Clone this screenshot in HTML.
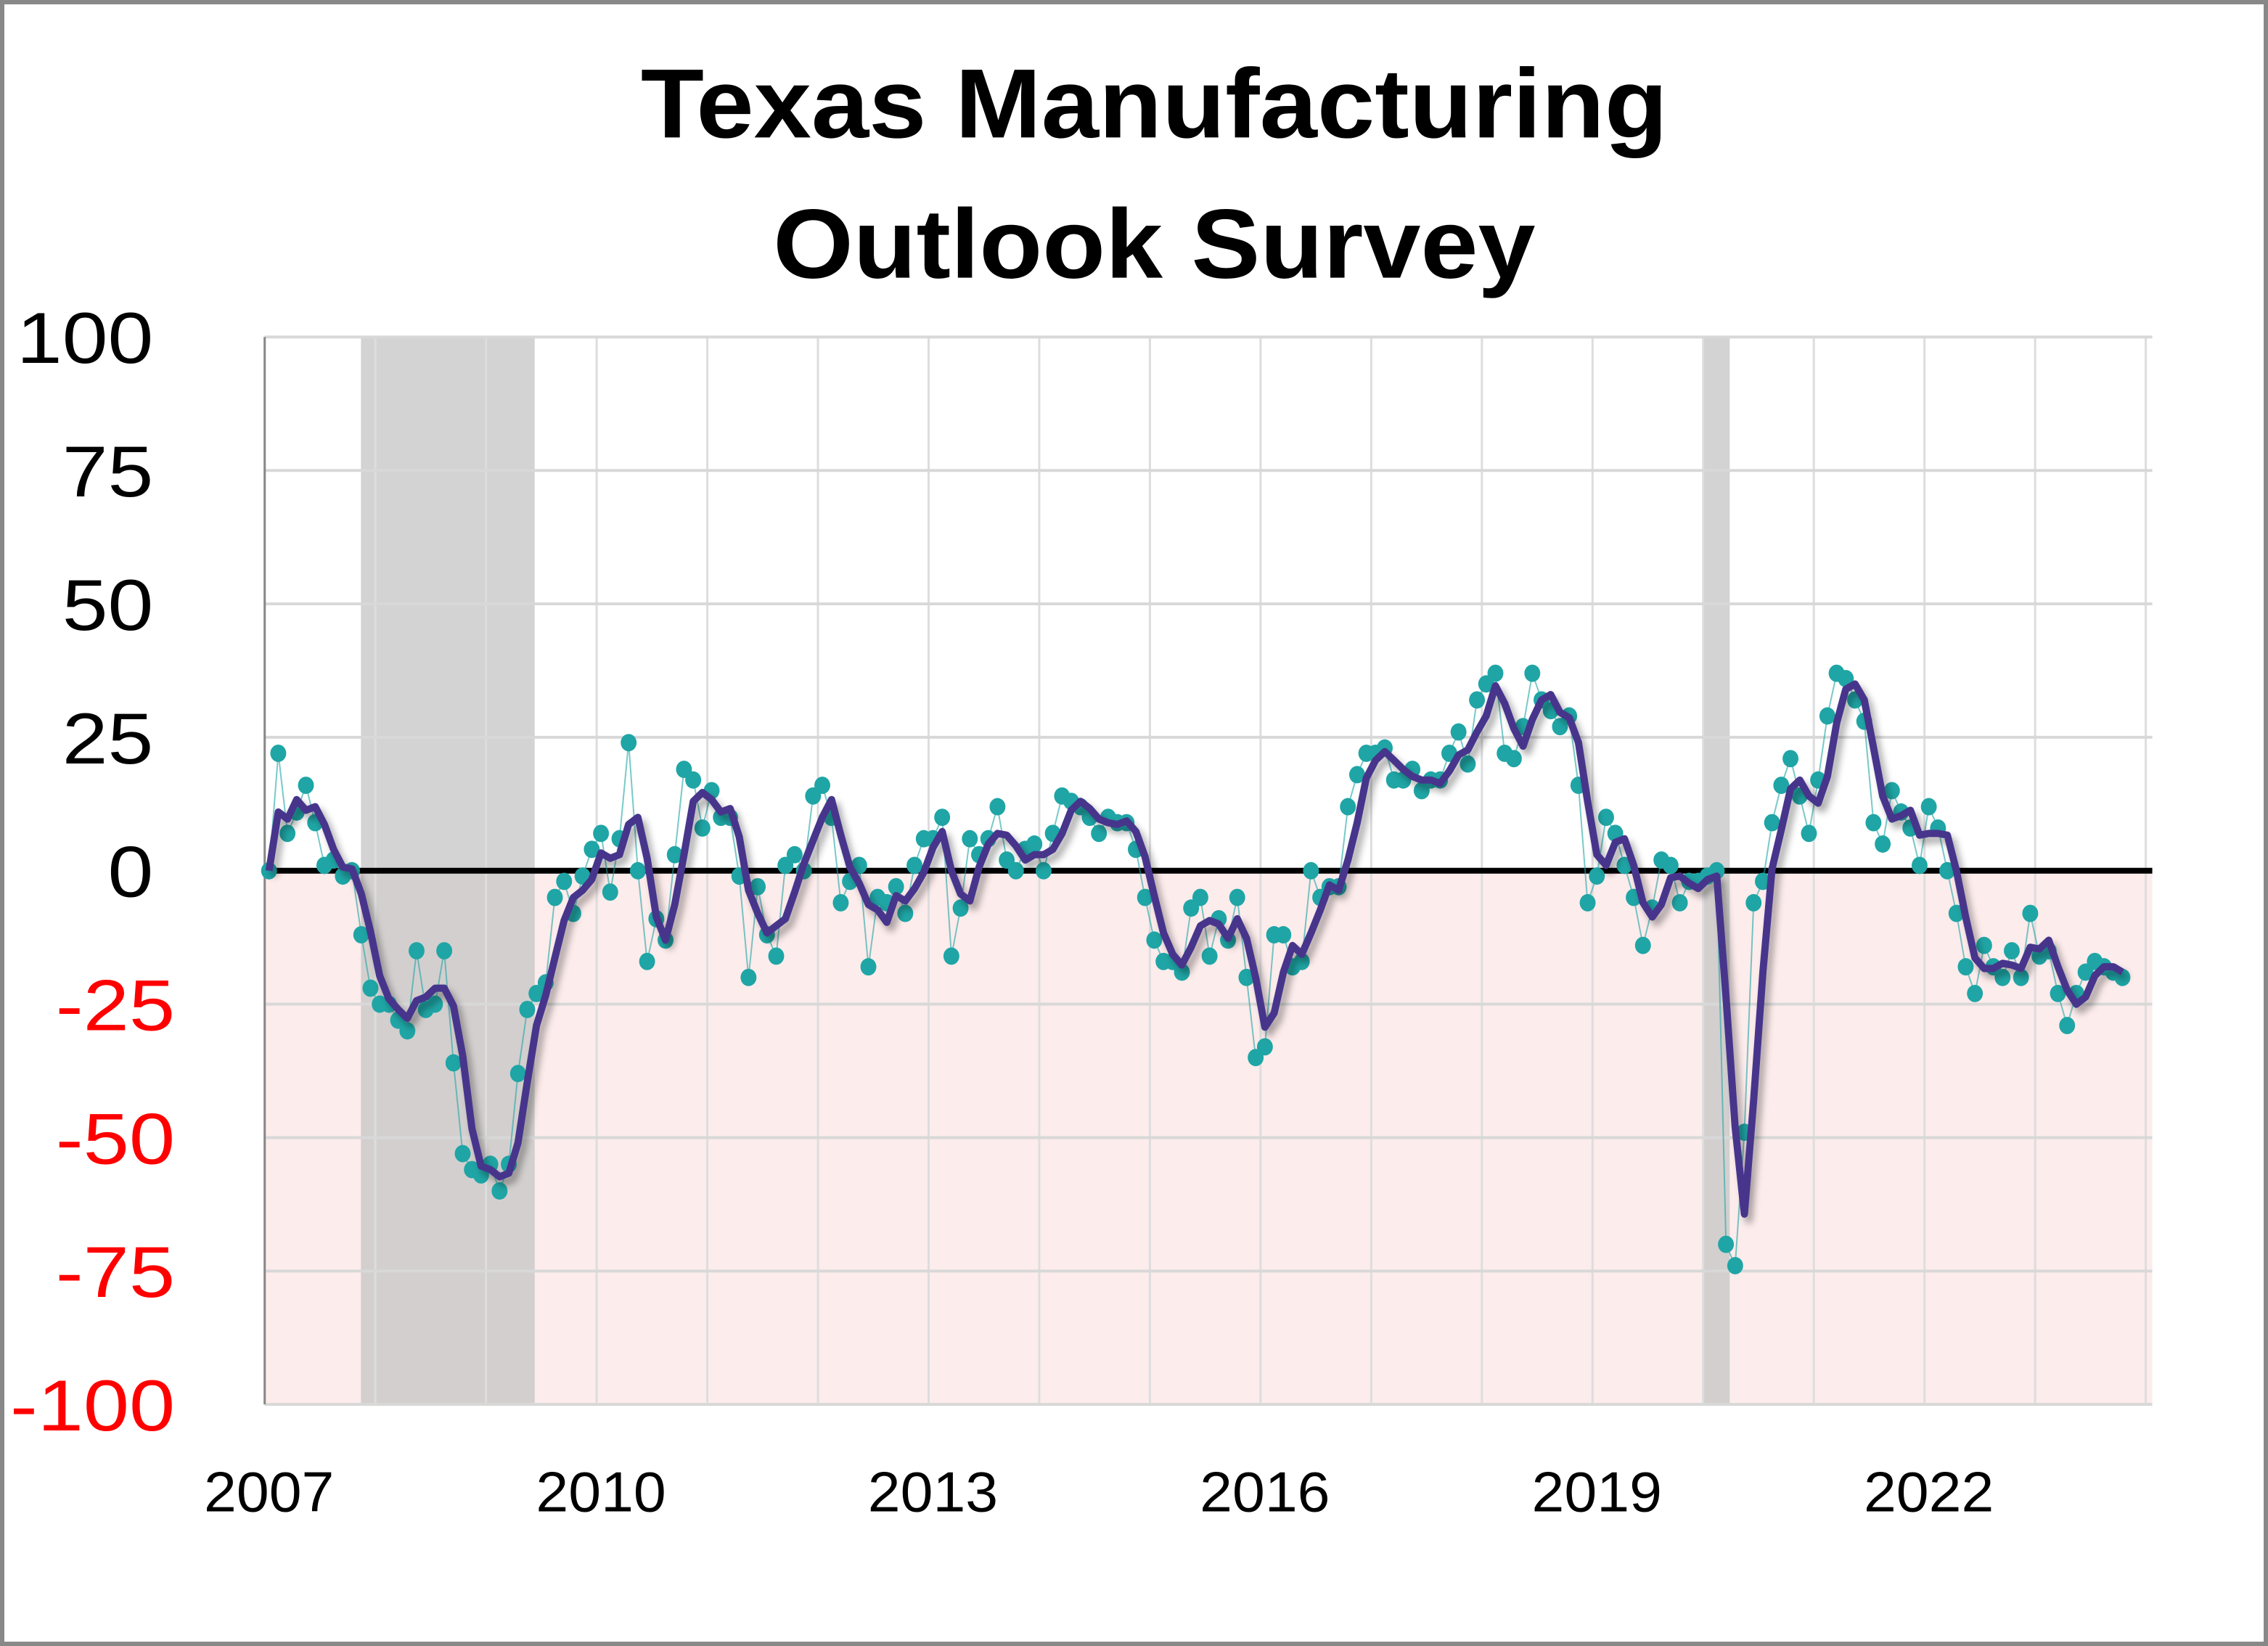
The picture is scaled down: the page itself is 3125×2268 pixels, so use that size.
<!DOCTYPE html>
<html><head><meta charset="utf-8"><style>
html,body{margin:0;padding:0;background:#fff;}
svg{display:block;}
</style></head><body>
<svg id="chart" width="3125" height="2268" viewBox="0 0 1568 1138" xmlns="http://www.w3.org/2000/svg">
<defs>
<filter id="sh" x="-5%" y="-5%" width="110%" height="110%"><feGaussianBlur in="SourceAlpha" stdDeviation="2.5"/><feOffset dx="3" dy="4"/><feComponentTransfer><feFuncA type="linear" slope="0.35"/></feComponentTransfer><feMerge><feMergeNode/><feMergeNode in="SourceGraphic"/></feMerge></filter>
</defs>
<rect x="1.5" y="1.5" width="1565" height="1135" fill="#fff" stroke="#888" stroke-width="3"/>
<text x="798" y="95" text-anchor="middle" font-family="'Liberation Sans',sans-serif" font-weight="bold" font-size="68" textLength="710" lengthAdjust="spacingAndGlyphs">Texas Manufacturing</text>
<text x="798" y="192" text-anchor="middle" font-family="'Liberation Sans',sans-serif" font-weight="bold" font-size="68" textLength="527" lengthAdjust="spacingAndGlyphs">Outlook Survey</text>
<g id="plot"></g>
</svg>
<script>
const values = [0,22,7,11,16,9,1,2,-1,0,-12,-22,
-25,-25,-28,-30,-15,-26,-25,-15,-36,-53,-56,-57,
-55,-60,-55,-38,-26,-23,-21,-5,-2,-8,-1,4,
7,-4,6,24,0,-17,-9,-13,3,19,17,8,
15,10,10,-1,-20,-3,-12,-16,1,3,0,14,
16,10,-6,-2,1,-18,-5,-6,-3,-8,1,6,
6,10,-16,-7,6,3,6,12,2,0,4,5,
0,7,14,13,12,10,7,10,9,9,4,-5,
-13,-17,-17,-19,-7,-5,-16,-9,-13,-5,-20,-35,
-33,-12,-12,-18,-17,0,-5,-3,-3,12,18,22,
22,23,17,17,19,15,17,17,22,26,20,32,
35,37,22,21,27,37,32,30,27,29,16,-6,
-1,10,7,1,-5,-14,-7,2,1,-6,-2,-2,
-1,0,-70,-74,-49,-6,-2,9,16,21,14,7,
17,29,37,36,32,28,9,5,15,11,8,1,
12,8,0,-8,-18,-23,-14,-18,-20,-15,-20,-8,
-16,-15,-23,-29,-23,-19,-17,-18,-19,-20];
const yTicks = [100,75,50,25,0,-25,-50,-75,-100];
const yTickLabels = ["100","75","50","25","0","-25","-50","-75","-100"];
const xTickYears = [2007,2010,2013,2016,2019,2022];
const recessions = [[2007.87,2009.44],[2020.0,2020.24]];
const startYear = 2007;

const NS="http://www.w3.org/2000/svg";
const g=document.getElementById('plot');
const L=183,R=1488,T=233,B=971;
const yS=v=>602-(v/100)*(602-T);
const xY=yr=>L+(yr-startYear)*76.5;
const xM=i=>L+3+i*6.375;
function el(t,a){const e=document.createElementNS(NS,t);for(const k in a)e.setAttribute(k,a[k]);g.appendChild(e);return e;}

let e=el('rect',{x:L,y:yS(0),width:R-L,height:B-yS(0),fill:'#fdecec'});


recessions.forEach(r=>{
  const x1=xY(r[0]),x2=xY(r[1]);
  const q=el('rect',{x:x1,y:T,width:x2-x1,height:B-T,fill:'#c8c8c8',opacity:'0.8'});
  
  
});
for(let yr=startYear;xY(yr)<=R+1;yr++){
  const q=el('line',{x1:xY(yr),x2:xY(yr),y1:T,y2:B,stroke:'#ddd','stroke-width':1.5});
  
  
}
yTicks.forEach((v,k)=>{
  const q=el('line',{x1:L,x2:R,y1:yS(v),y2:yS(v),stroke:'#d8d8d8','stroke-width':2});
  
  
  const lab=yTickLabels[k];
  const t=el('text',{x:v<0?121:106,y:yS(v)+18,'text-anchor':'end','font-family':"'Liberation Sans',sans-serif",'font-size':50,fill:v<0?'#ff0000':'#000',textLength:lab.length*31.5-(lab[0]==='-'?12:0),lengthAdjust:'spacingAndGlyphs'});
  t.textContent=lab;
  
  
});
e=el('line',{x1:L,x2:L,y1:T,y2:B,stroke:'#888','stroke-width':1.5});


xTickYears.forEach(yr=>{
  const t=el('text',{x:xY(yr)+3,y:1045,'text-anchor':'middle','font-family':"'Liberation Sans',sans-serif",'font-size':39,textLength:90,lengthAdjust:'spacingAndGlyphs'});
  t.textContent=String(yr);
  
  
});
e=el('line',{x1:L,x2:R,y1:yS(0),y2:yS(0),stroke:'#000','stroke-width':4});



const pts=values.map((v,i)=>xM(i).toFixed(1)+','+yS(v).toFixed(1)).join(' ');
e=el('polyline',{points:pts,fill:'none',stroke:'#1fa5a5','stroke-width':1,opacity:'0.6'});


values.forEach((v,i)=>{
  const c=el('ellipse',{cx:xM(i),cy:yS(v),rx:5.5,ry:6,fill:'#1fa5a5'});
  
  
});
const ma=values.map((v,i)=>{const s=values.slice(Math.max(0,i-2),i+1);return s.reduce((a,b)=>a+b,0)/s.length;});
const mpts=ma.map((v,i)=>xM(i).toFixed(1)+','+yS(v).toFixed(1)).join(' ');
e=el('polyline',{points:mpts,fill:'none',stroke:'#46368c','stroke-width':5,'stroke-linejoin':'round',filter:'url(#sh)'});


</script>
</body></html>
